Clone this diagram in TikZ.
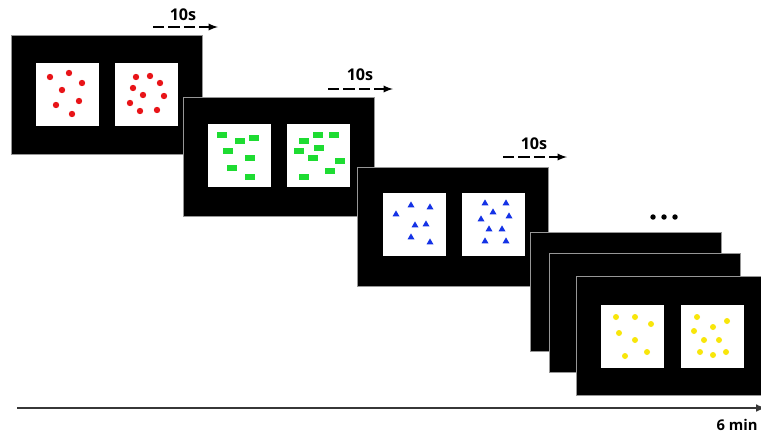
\documentclass[tikz,border=0pt]{standalone}
\usepackage{fontspec}
\setmainfont{Open Sans}
\usetikzlibrary{arrows}
\definecolor{rouge}{RGB}{232,20,24}
\definecolor{vert}{RGB}{30,220,50}
\definecolor{bleu}{RGB}{20,50,230}
\definecolor{jaune}{RGB}{248,230,10}
\definecolor{bordure}{RGB}{150,150,150}
\definecolor{axe}{RGB}{55,55,55}
\begin{document}
\begin{tikzpicture}[x=0.025cm, y=-0.025cm]
				\tikzset{ecran/.style={draw=bordure, line width=0.6pt, fill=black, minimum width=4.775cm, minimum height=2.975cm, inner sep=0, outer sep=0, anchor=north west}, carre/.style={fill=white, minimum size=1.575cm, inner sep=0, outer sep=0, anchor=north west}, fleche/.style={>=latex, ->, line width=1.3pt, dash pattern=on 8pt off 3pt}, duree/.style={font=\bfseries\fontsize{11.5}{13}\selectfont}};
				\useasboundingbox[fill=white] (0,0) rectangle (761,435);
				\clip (0,0) rectangle (761,435);

				\node[ecran] (e1) at (11,35) {};
				\node[carre] (c1g) at (36,63) {};
				\node[carre] (c1d) at (115,63) {};
				\foreach \a/\b in {14/14, 33/10, 46/20, 26/27, 43/38, 20/42, 36/51}
					\fill[rouge] ([shift={(\a,\b)}]c1g.north west) circle[radius=0.08cm];
				\foreach \a/\b in {21/14, 35/13, 45/20, 18/25, 28/32, 49/33, 15/40, 25/48, 42/47}
					\fill[rouge] ([shift={(\a,\b)}]c1d.north west) circle[radius=0.08cm];

				\node[ecran] (e2) at (183,97) {};
				\node[carre] (c2g) at (208,124) {};
				\node[carre] (c2d) at (287,124) {};
				\foreach \a/\b in {14/11, 32/17, 46/14, 20/27, 42/34, 24/44, 42/53}
					\fill[vert] ([shift={(\a-5,\b-3)}]c2g.north west) rectangle ++(10,6);
				\foreach \a/\b in {17/17, 31/11, 47/11, 32/24, 12/27, 26/34, 53/37, 43/47, 17/53}
					\fill[vert] ([shift={(\a-5,\b-3)}]c2d.north west) rectangle ++(10,6);

				\node[ecran] (e3) at (357,167) {};
				\node[carre] (c3g) at (383,193) {};
				\node[carre] (c3d) at (462,193) {};
				\foreach \a/\b in {13/21, 28/12, 47/14, 32/32, 43/31, 28/44, 47/49}
					\fill[bleu] ([shift={(\a-3.5,\b+2.4)}]c3g.north west) -- ++(3.5,-6) -- ++(3.5,6) -- cycle;
				\foreach \a/\b in {23/10, 44/10, 31/19, 47/23, 19/26, 27/36, 40/36, 23/48, 44/48}
					\fill[bleu] ([shift={(\a-3.5,\b+2.4)}]c3d.north west) -- ++(3.5,-6) -- ++(3.5,6) -- cycle;

				\node[ecran] (e4a) at (530,232) {};
				\node[ecran] (e4b) at (549,253) {};
				\node[ecran] (e4) at (576,276) {};
				\node[carre] (c4g) at (601,305) {};
				\node[carre] (c4d) at (681,305) {};
				\foreach \a/\b in {15/12, 34/12, 50/19, 18/28, 34/35, 24/51, 46/47}
					\fill[jaune] ([shift={(\a,\b)}]c4g.north west) circle[radius=0.075cm];
				\foreach \a/\b in {16/12, 46/16, 32/22, 13/26, 23/35, 38/35, 19/47, 32/50, 45/47}
					\fill[jaune] ([shift={(\a,\b)}]c4d.north west) circle[radius=0.075cm];
				\foreach \a in {653, 664, 675}
					\fill (\a,217) circle[radius=0.068cm];

				\node[duree] (l1) at (183,15) {10s};
				\coordinate (d1) at (153,27);
				\coordinate (f1) at (218,27);
				\draw[fleche] (d1) -- (f1);
				\node[duree] (l2) at (360,75) {10s};
				\coordinate (d2) at (328,89);
				\coordinate (f2) at (393,89);
				\draw[fleche] (d2) -- (f2);
				\node[duree] (l3) at (534,144) {10s};
				\coordinate (d3) at (503,157);
				\coordinate (f3) at (567,157);
				\draw[fleche] (d3) -- (f3);

				\coordinate (t0) at (17,408);
				\coordinate (tfin) at (766,408);
				\draw[axe, ->, >=latex, line width=1.4pt] (t0) -- (tfin);
				\node[font=\bfseries\fontsize{10.5}{12}\selectfont] (tm) at (737,425) {6 min};
			\end{tikzpicture}
\end{document}
